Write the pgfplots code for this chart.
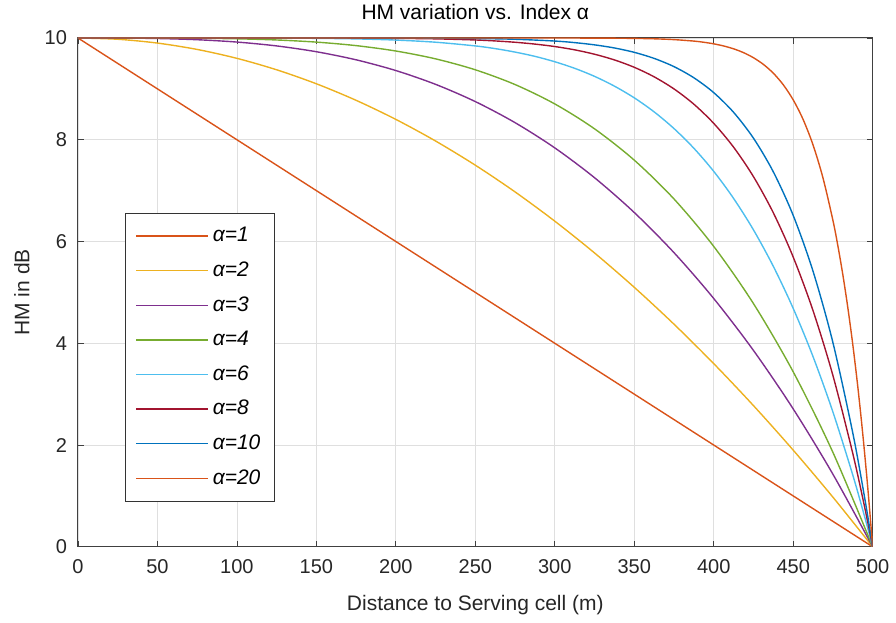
\documentclass[border=0pt]{standalone}
\usepackage{pgfplots}
\pgfplotsset{compat=1.18}
\usepackage{fontspec}
\setmainfont{Liberation Sans}
\definecolor{colA}{rgb}{0.85,0.325,0.098}
\definecolor{colB}{rgb}{0.929,0.694,0.125}
\definecolor{colC}{rgb}{0.494,0.184,0.556}
\definecolor{colD}{rgb}{0.466,0.674,0.188}
\definecolor{colE}{rgb}{0.301,0.745,0.933}
\definecolor{colF}{rgb}{0.635,0.078,0.184}
\definecolor{colG}{rgb}{0,0.447,0.741}
\begin{document}
\begin{tikzpicture}
\begin{axis}[
  scale only axis, width=397.5pt, height=254.5pt,
  xmin=0, xmax=500, ymin=0, ymax=10,
  xtick={0,50,...,500}, ytick={0,2,...,10},
  grid=major, major grid style={gray!25, line width=0.4pt},
  tick align=inside, tick pos=both, major tick length=3pt,
  axis line style={black!75, line width=0.5pt},
  every tick/.style={black!75},
  /pgf/number format/assume math mode=true,
  ticklabel style={font=\fontsize{10}{12}\selectfont, text=black!85},
  xticklabel style={yshift=-3pt},
  yticklabel style={xshift=-2pt},
  every axis title shift=0pt,
  title={HM variation vs. Index α},
  title style={font=\fontsize{10.5}{12}\selectfont, at={(axis description cs:0.5,1.0354)}, anchor=base, inner sep=0pt},
  xlabel={Distance to Serving cell (m)},
  ylabel={HM in dB},
  xlabel style={font=\fontsize{10.5}{12}\selectfont, at={(axis description cs:0.5,-0.115)}, anchor=center, inner sep=0pt, text=black!85},
  ylabel style={font=\fontsize{10.5}{12}\selectfont, at={(axis description cs:-0.0705,0.5)}, anchor=center, inner sep=0pt, text=black!85},
  legend style={at={(0.059,0.656)}, anchor=north west, draw=black!80,
    font=\fontsize{10.5}{12}\selectfont\itshape, row sep=4.5pt,
    inner xsep=5pt, inner ysep=5pt, cells={anchor=west}},
  legend image code/.code={\draw[#1, line width=0.8pt] (0pt,0pt) -- (36pt,0pt);},
  every axis plot/.append style={line width=0.7pt, smooth, tension=0.5},
]
\coordinate (LL) at (rel axis cs:0,0);
\coordinate (UR) at (rel axis cs:1,1);
\addplot[color=colA, sharp plot] coordinates {(0,10) (500,0)};
\addlegendentry{α=1}
\addplot[color=colB] coordinates {(0,10) (25,9.975) (50,9.9) (75,9.775) (100,9.6) (125,9.375) (150,9.1) (175,8.775) (200,8.4) (225,7.975) (250,7.5) (275,6.975) (300,6.4) (325,5.775) (350,5.1) (375,4.375) (400,3.6) (425,2.775) (450,1.9) (475,0.975) (500,0)};
\addlegendentry{α=2}
\addplot[color=colC] coordinates {(0,10) (25,9.999) (50,9.99) (75,9.966) (100,9.92) (125,9.844) (150,9.73) (175,9.571) (200,9.36) (225,9.089) (250,8.75) (275,8.336) (300,7.84) (325,7.254) (350,6.57) (375,5.781) (400,4.88) (425,3.859) (450,2.71) (475,1.426) (500,0)};
\addlegendentry{α=3}
\addplot[color=colD] coordinates {(0,10) (25,10) (50,9.999) (75,9.995) (100,9.984) (125,9.961) (150,9.919) (175,9.85) (200,9.744) (225,9.59) (250,9.375) (275,9.085) (300,8.704) (325,8.215) (350,7.599) (375,6.836) (400,5.904) (425,4.78) (450,3.439) (475,1.855) (500,0)};
\addlegendentry{α=4}
\addplot[color=colE] coordinates {(0,10) (50,10) (100,10) (125,9.998) (150,9.993) (175,9.982) (200,9.959) (225,9.917) (250,9.844) (262.5,9.791) (275,9.723) (287.5,9.639) (300,9.533) (312.5,9.404) (325,9.246) (337.5,9.054) (350,8.824) (362.5,8.548) (375,8.22) (387.5,7.833) (400,7.379) (412.5,6.847) (425,6.229) (437.5,5.512) (450,4.686) (462.5,3.736) (475,2.649) (487.5,1.409) (495,0.585) (500,0)};
\addlegendentry{α=6}
\addplot[color=colF] coordinates {(0,10) (75,10) (150,10) (175,9.998) (200,9.993) (225,9.983) (250,9.961) (262.5,9.942) (275,9.916) (287.5,9.880) (300,9.832) (312.5,9.767) (325,9.681) (337.5,9.569) (350,9.424) (362.5,9.237) (375,8.999) (387.5,8.699) (400,8.322) (412.5,7.854) (425,7.275) (437.5,6.564) (450,5.695) (462.5,4.640) (475,3.366) (487.5,1.833) (495,0.773) (500,0)};
\addlegendentry{α=8}
\addplot[color=colG] coordinates {(0,10) (100,10) (200,10) (225,9.997) (250,9.99) (275,9.975) (300,9.94) (312.5,9.909) (325,9.865) (337.5,9.804) (350,9.718) (362.5,9.599) (375,9.437) (387.5,9.218) (400,8.926) (412.5,8.539) (425,8.031) (437.5,7.369) (450,6.513) (462.5,5.414) (475,4.013) (487.5,2.237) (495,0.956) (500,0)};
\addlegendentry{α=10}
\addplot[color=colA] coordinates {(0,10) (150,10) (300,10) (312.5,9.999) (325,9.998) (337.5,9.996) (350,9.992) (362.5,9.984) (375,9.968) (387.5,9.939) (393.75,9.916) (400,9.885) (406.25,9.843) (412.5,9.787) (418.75,9.712) (425,9.612) (431.25,9.481) (437.5,9.308) (443.75,9.081) (450,8.784) (456.25,8.398) (462.5,7.897) (468.75,7.249) (475,6.415) (478.125,5.913) (481.25,5.344) (484.375,4.700) (487.5,3.973) (490.625,3.152) (493.75,2.224) (496.875,1.178) (500,0)};
\addlegendentry{α=20}
\end{axis}
\path (LL) ++(-39pt,-38pt);
\path (UR) ++(11.5pt,19pt);
\end{tikzpicture}
\end{document}
